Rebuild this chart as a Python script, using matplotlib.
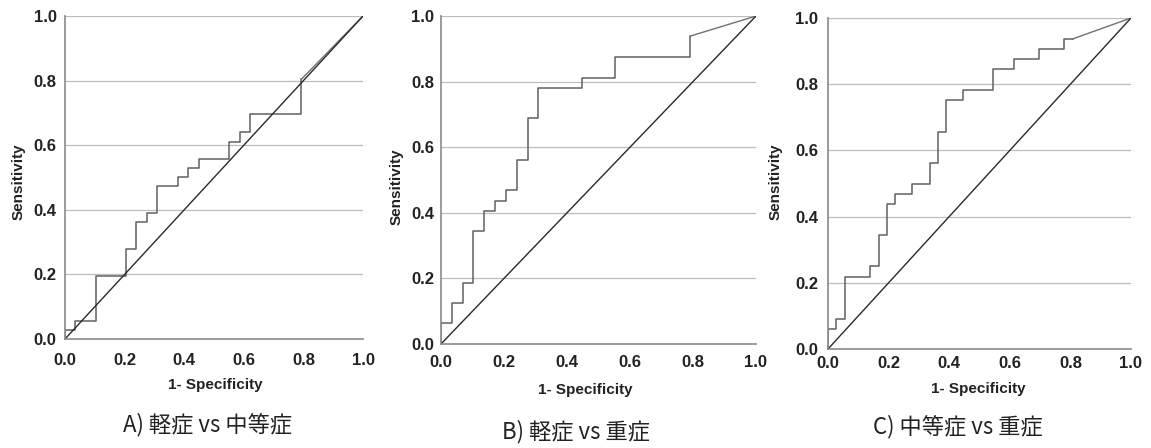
import numpy as np
import matplotlib
matplotlib.use("Agg")
import matplotlib.pyplot as plt

# ROC step data: x of each vertical jump and the level it reaches
fpr_a = [0.0, 0.032, 0.105, 0.206, 0.239, 0.275, 0.309, 0.379, 0.413, 0.449, 0.550, 0.586, 0.620, 0.793]
tpr_a = [0.029, 0.055, 0.196, 0.278, 0.362, 0.390, 0.475, 0.501, 0.529, 0.558, 0.611, 0.640, 0.696, 0.804]

fpr_b = [0.0, 0.035, 0.070, 0.102, 0.137, 0.171, 0.206, 0.241, 0.277, 0.309, 0.449, 0.552, 0.792]
tpr_b = [0.063, 0.124, 0.187, 0.345, 0.405, 0.437, 0.470, 0.561, 0.688, 0.781, 0.812, 0.874, 0.939]

fpr_c = [0.0, 0.027, 0.057, 0.137, 0.167, 0.195, 0.222, 0.278, 0.335, 0.363, 0.390, 0.445, 0.545, 0.613, 0.696, 0.778, 0.808]
tpr_c = [0.060, 0.092, 0.218, 0.250, 0.343, 0.437, 0.468, 0.500, 0.563, 0.655, 0.751, 0.784, 0.846, 0.876, 0.906, 0.937, 0.937]

captions = ["A) 軽症 vs 中等症", "B) 軽症 vs 重症", "C) 中等症 vs 重症"]
yticks = [0.0, 0.2, 0.4, 0.6, 0.8, 1.0]

# layout per panel (measured in pixels from the reference)
panels = [
    dict(fpr=fpr_a, tpr=tpr_a, rect=[0.0565, 0.2433, 0.2589, 0.7210], xpad=10, ypad=6,
         ylab=(-0.131, 0.486), xlab=(0.503, -0.121), cap=(208, 425)),
    dict(fpr=fpr_b, tpr=tpr_b, rect=[0.3831, 0.2321, 0.2737, 0.7321], xpad=8, ypad=5,
         ylab=(-0.117, 0.479), xlab=(0.457, -0.119), cap=(576, 432)),
    dict(fpr=fpr_c, tpr=tpr_c, rect=[0.7194, 0.2210, 0.2632, 0.7388], xpad=5, ypad=7,
         ylab=(-0.149, 0.505), xlab=(0.495, -0.100), cap=(958, 427)),
]

W, H = 1151, 448
fig = plt.figure(figsize=(W / 100, H / 100), dpi=100)
tick_font = dict(family=["Liberation Sans", "DejaVu Sans"], size=12, weight="bold")
label_font = dict(family=["Liberation Sans", "DejaVu Sans"], size=11, weight="bold")

for p, cap in zip(panels, captions):
    ax = fig.add_axes(p["rect"])
    fpr = np.r_[0.0, p["fpr"]]
    tpr = np.r_[0.0, p["tpr"]]
    ax.step(fpr, tpr, where="post", color="#606060", lw=1.1)
    ax.plot([fpr[-1], 1.0], [tpr[-1], 1.0], color="#707070", lw=1.0)
    ax.plot([0, 1], [0, 1], color="#2a2a2a", lw=1.0)

    ax.set_xlim(0, 1.0)
    ax.set_ylim(0, 1.0)
    ax.set_xticks(yticks)
    ax.set_yticks(yticks)
    ax.set_xticklabels([f"{v:.1f}" for v in yticks], fontdict=tick_font, color="#222222")
    ax.set_yticklabels([f"{v:.1f}" for v in yticks], fontdict=tick_font, color="#222222")
    ax.tick_params(axis="x", length=0, pad=p["xpad"])
    ax.tick_params(axis="y", length=0, pad=p["ypad"])

    ax.yaxis.grid(True, color="#bdbdbd", lw=0.9)
    ax.set_axisbelow(True)
    for s in ["top", "right"]:
        ax.spines[s].set_visible(False)
    for s in ["left", "bottom"]:
        ax.spines[s].set_color("#8a8a8a")
        ax.spines[s].set_linewidth(1.2)

    ax.set_ylabel("Sensitivity", fontdict=label_font, color="#222222")
    ax.set_xlabel("1- Specificity", fontdict=label_font, color="#222222")
    ax.yaxis.set_label_coords(*p["ylab"])
    ax.xaxis.set_label_coords(*p["xlab"])

    cx, cy = p["cap"]
    fig.text(cx / W, 1 - cy / H, cap, ha="center", va="center", fontsize=16,
             family=["Noto Sans CJK JP", "DejaVu Sans"], color="#222222")

fig.savefig("out.png", dpi=100)
